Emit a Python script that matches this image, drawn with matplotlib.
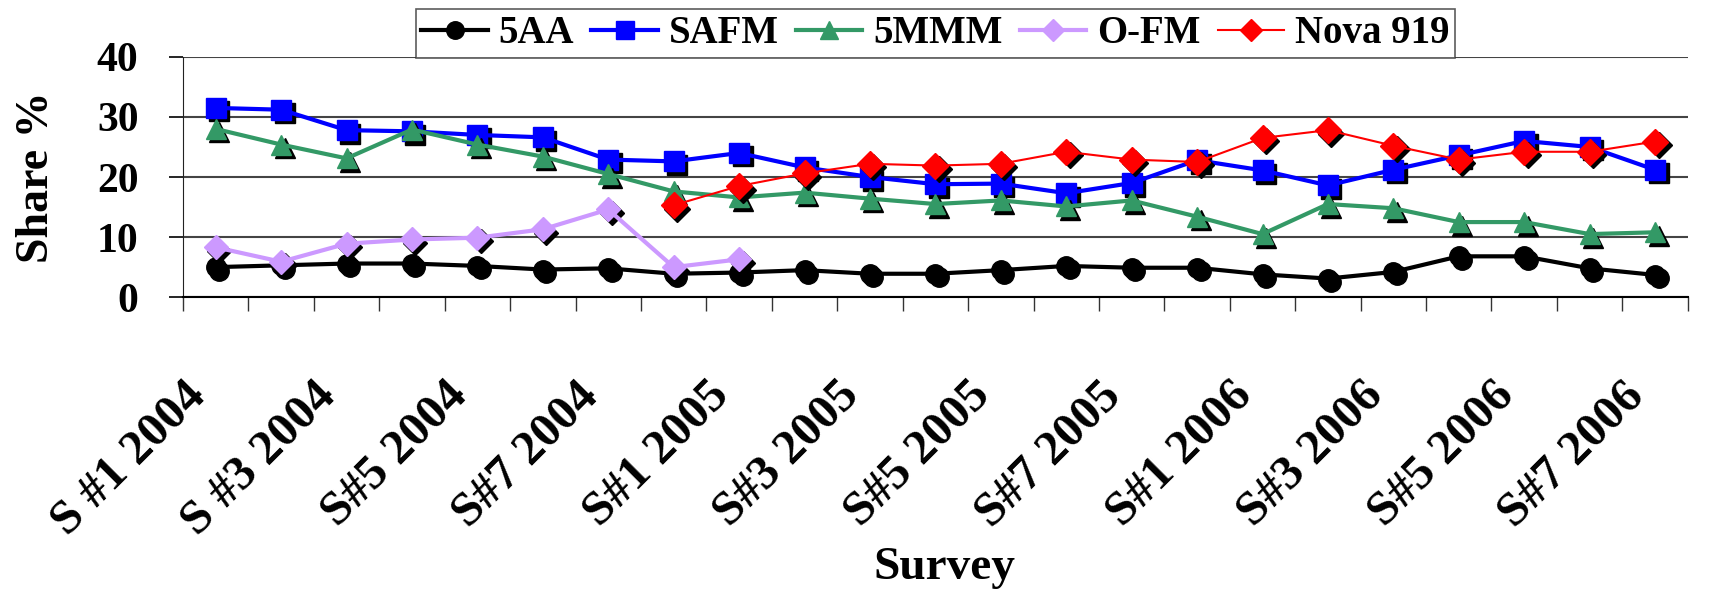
import numpy as np
import matplotlib
matplotlib.use("Agg")
import matplotlib.pyplot as plt
from matplotlib import transforms

plt.rcParams['font.family'] = ['Liberation Serif', 'DejaVu Serif']
plt.rcParams['font.weight'] = 'bold'

categories = ["S #1 2004", "S #2 2004", "S #3 2004", "S #4 2004", "S#5 2004", "S#6 2004",
              "S#7 2004", "S#8 2004", "S#1 2005", "S#2 2005", "S#3 2005", "S#4 2005",
              "S#5 2005", "S#6 2005", "S#7 2005", "S#8 2005", "S#1 2006", "S#2 2006",
              "S#3 2006", "S#4 2006", "S#5 2006", "S#6 2006", "S#7 2006"]

aa5 = [5.0, 5.3, 5.6, 5.6, 5.2, 4.6, 4.8, 3.9, 4.1, 4.5, 3.9, 3.9, 4.5, 5.2, 4.9,
       4.9, 3.8, 3.1, 4.2, 6.8, 6.8, 4.8, 3.7]
safm = [31.5, 31.2, 27.8, 27.6, 27.0, 26.6, 22.9, 22.6, 24.0, 21.6, 20.0, 18.8, 18.9,
        17.3, 19.0, 22.8, 21.1, 18.6, 21.2, 23.6, 26.0, 25.0, 21.2]
mmm5 = [28.0, 25.4, 23.1, 27.9, 25.4, 23.4, 20.5, 17.6, 16.6, 17.4, 16.4, 15.5, 16.1,
        15.1, 16.1, 13.4, 10.5, 15.5, 14.8, 12.5, 12.5, 10.5, 10.8]
ofm = [8.3, 5.9, 8.9, 9.6, 9.9, 11.3, 14.6, 5.0, 6.3] + [np.nan] * 14
nova = [np.nan] * 7 + [15.3, 18.5, 20.6, 22.2, 21.9, 22.2, 24.2, 22.9, 22.5, 26.5,
                       27.8, 25.2, 22.9, 24.2, 24.2, 25.9]

series = [
    ("5AA", aa5, "black", "o", 3.0, 14),
    ("SAFM", safm, "#0000FF", "s", 3.0, 14),
    ("5MMM", mmm5, "#339966", "^", 3.0, 15),
    ("O-FM", ofm, "#CC99FF", "D", 3.0, 12),
    ("Nova 919", nova, "#FF0000", "D", 1.5, 13),
]

fig = plt.figure(figsize=(17.1, 5.92), dpi=100)
ax = fig.add_axes([0.107, 0.498, 0.880, 0.406])

x = np.arange(len(categories))
shadow = transforms.offset_copy(ax.transData, fig=fig, x=3.5, y=-3.5, units='dots')

for i, (name, vals, color, mk, lw, ms) in enumerate(series):
    base = 3 + i * 3
    ax.plot(x, vals, linestyle='none', marker=mk, markersize=ms, color='black',
            markeredgecolor='black', transform=shadow, zorder=base)
    ax.plot(x, vals, color=color, lw=lw, marker=mk, markersize=ms,
            markerfacecolor=color, markeredgecolor=color, label=name, zorder=base + 1)

ax.set_xlim(-0.5, len(categories) - 0.5)
ax.set_ylim(0, 40)
ax.set_yticks([0, 10, 20, 30, 40])
ax.tick_params(axis='y', labelsize=30, direction='out', length=10, width=1.2, pad=22)
ax.yaxis.grid(True, color='#444444', lw=1.5)
ax.set_axisbelow(True)

# labels anchored slightly left of the category centre, as in the original
label_offset = 0.5
ax.xaxis.remove_overlapping_locs = False
ax.set_xticks(x[::2] - label_offset)
ax.set_xticklabels(categories[::2], rotation=45, ha='right', va='top',
                   rotation_mode='anchor', fontsize=35, fontweight='bold')
ax.set_xticks(np.arange(-0.5, len(categories), 1.0), minor=True)
ax.tick_params(axis='x', which='major', length=0, pad=55)
ax.tick_params(axis='x', which='minor', direction='out', length=10, width=1.0, color='#333333')

for s in ['top', 'right']:
    ax.spines[s].set_visible(False)
ax.spines['left'].set_color('#222222')
ax.spines['bottom'].set_linewidth(1.5)

ax.set_ylabel("Share %", fontsize=33, fontweight='bold')
ax.yaxis.set_label_coords(-0.083, 0.5)
ax.set_xlabel("Survey", fontsize=34, fontweight='bold')
ax.xaxis.set_label_coords(0.506, -1.04)

leg = ax.legend(loc='lower center', bbox_to_anchor=(0.5, 0.995), ncol=5,
                frameon=True, fancybox=False, edgecolor='#333333', fontsize=28,
                handlelength=1.7, columnspacing=0.45, handletextpad=0.28,
                borderpad=0.15, borderaxespad=0, markerscale=0.9)
leg.get_frame().set_linewidth(1.2)
for t in leg.get_texts():
    t.set_fontweight('bold')

fig.savefig("out.png", dpi=100)
